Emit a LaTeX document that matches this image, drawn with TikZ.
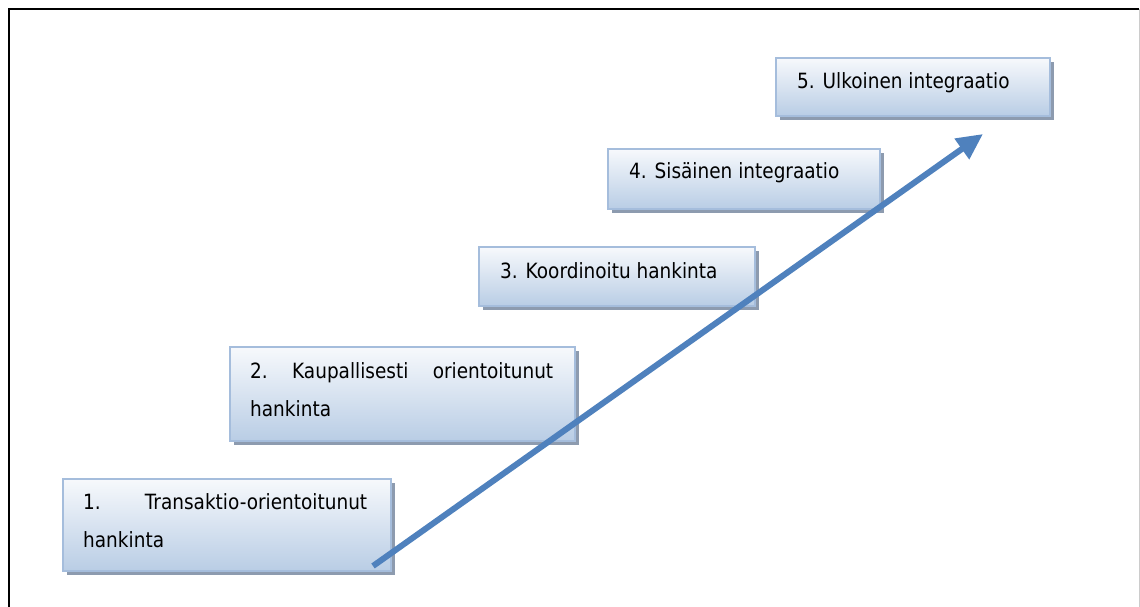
\documentclass[tikz,border=0pt]{standalone}
\usepackage{fontspec}
\setmainfont{DejaVu Sans}[FakeStretch=0.88]
\usetikzlibrary{shadings,shadows,arrows.meta}
\definecolor{arrowblue}{HTML}{4F81BD}
\definecolor{boxedge}{HTML}{A5BDDC}
\definecolor{boxtop}{HTML}{F7F9FC}
\definecolor{boxbottom}{HTML}{B9CDE5}
\definecolor{boxshadow}{HTML}{8D9BAF}
% two lines, the first spread over the given width
\newcommand{\stairtext}[3]{\vtop{\baselineskip=38pt\hbox to #1{#2}\hbox{#3}}}
\begin{document}
\begin{tikzpicture}[x=1pt,y=-1pt,
  stepbox/.style={draw=boxedge, line width=1.6pt, rectangle, inner sep=0pt,
    anchor=north west, top color=boxtop, bottom color=boxbottom,
    drop shadow={shadow xshift=4pt, shadow yshift=-4pt, fill=boxshadow, opacity=1}},
  steptext/.style={anchor=base west, inner sep=0pt, font=\fontsize{21}{38}\selectfont},
  rise/.style={draw=arrowblue, line width=6pt,
    -{Triangle[length=26pt,width=24pt]}}]
\useasboundingbox (0,0) rectangle (1140,607);
% outer frame, open at the bottom
\draw[black, line width=2pt] (9,607) -- (9,9) -- (1139,9);
\draw[black!20, line width=1pt] (1139,9) -- (1139,607);

% steps
\node[stepbox, minimum width=328, minimum height=92] (b1) at (62,478) {};
\node[stepbox, minimum width=345, minimum height=94] (b2) at (229,346) {};
\node[stepbox, minimum width=276, minimum height=59] (b3) at (478,246) {};
\node[stepbox, minimum width=272, minimum height=60] (b4) at (607,148) {};
\node[stepbox, minimum width=274, minimum height=58] (b5) at (775,57) {};

\node[steptext] (t1) at (83,509) {\stairtext{284pt}{1.\hfill Transaktio-orientoitunut}{hankinta}};
\node[steptext] (t2) at (250,378) {\stairtext{303pt}{2.\hfill Kaupallisesti\hfill orientoitunut}{hankinta}};
\node[steptext] (t3) at (500,278) {3. Koordinoitu hankinta};
\node[steptext] (t4) at (629,178) {4. Sisäinen integraatio};
\node[steptext] (t5) at (797,89) {5. Ulkoinen integraatio};

% rising arrow
\coordinate (start) at (373,566);
\coordinate (tip) at (983,134);
\draw[rise] (start) -- (tip);
\end{tikzpicture}
\end{document}
